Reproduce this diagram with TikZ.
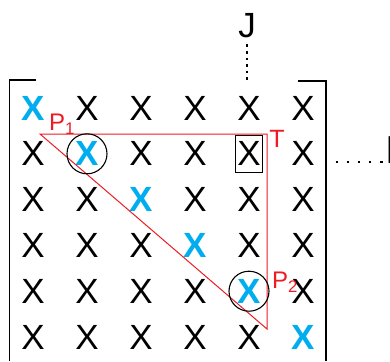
\documentclass[tikz,border=0pt]{standalone}
\usepackage{fontspec}
\setmainfont{Liberation Sans}
\usepackage{xcolor}
\definecolor{xblue}{RGB}{0,174,239}
\definecolor{tred}{RGB}{237,28,36}

\begin{document}
\begin{tikzpicture}[x=1pt, y=-1pt, line width=1.1pt,
    entry/.style={inner sep=0pt, font=\fontsize{35}{35}\selectfont},
    diag/.style={entry, xblue, font=\fontsize{35}{35}\selectfont\bfseries},
    redlbl/.style={inner sep=0pt, tred}]
    \useasboundingbox (0,0) rectangle (390,361);
    % Matrix entries
    \foreach \r in {1,...,6}
      \foreach \c in {1,...,6}{
        \ifnum\r=\c \def\sty{diag}\else\def\sty{entry}\fi
        \node[\sty] (x\r\c) at ({33+54*(\c-1)}, {108+45.8*(\r-1)}) {X};
      }
    % Brackets
    \draw (36,80) -- (9.5,80) -- (9.5,361);
    \draw (298,81) -- (326,81) -- (326,361);
    % Column J
    \node[entry] (J) at (247,26) {J};
    \coordinate (jtop) at (247,44.5);
    \coordinate (jbot) at (247,82);
    \draw[line width=2.6pt, dash pattern=on 2.6pt off 3.9pt] (jtop) -- (jbot);
    % Row dots
    \coordinate (rleft) at (335.5,162);
    \coordinate (rright) at (384,162);
    \draw[line width=2.8pt, dash pattern=on 2.6pt off 8.5pt] (rleft) -- (rright);
    \node[entry, anchor=base west, font=\fontsize{39}{39}\selectfont] (I) at (384.5,163.5) {I};
    % Triangle
    \coordinate (p1) at (40,134);
    \coordinate (t) at (267,134);
    \coordinate (p2) at (267,329);
    \draw[tred, line width=1pt] (p1) -- (t) -- (p2) -- cycle;
    \node[redlbl, font=\fontsize{24}{24}\selectfont] (lp1) at (62,124) {P\textsubscript{1}};
    \node[redlbl, font=\fontsize{25}{25}\selectfont] (lt) at (277,139) {T};
    \node[redlbl, font=\fontsize{24}{24}\selectfont] (lp2) at (285,282) {P\textsubscript{2}};
    % Marks
    \draw (x22) circle (20pt);
    \draw (x55) circle (20pt);
    \draw (x25.center) ++(-13.5,-18.5) rectangle ++(27,37);
\end{tikzpicture}
\end{document}
